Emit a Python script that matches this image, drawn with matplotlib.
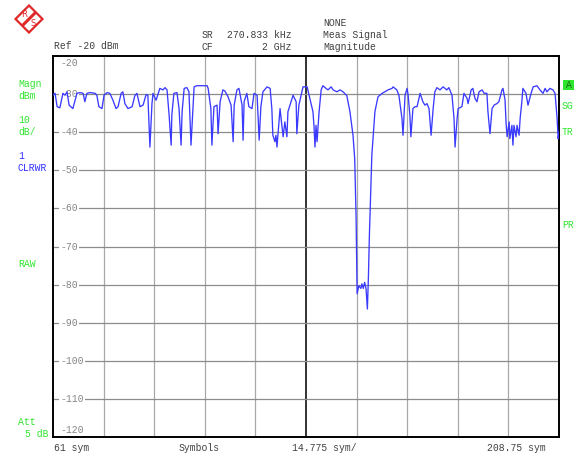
import matplotlib
matplotlib.use("Agg")
import matplotlib.pyplot as plt
from matplotlib.patches import Polygon, Rectangle

# ---- instrument settings -------------------------------------------------
sym_start, sym_stop = 61.0, 208.75
sym_per_div = 14.775
level_ticks = [-20, -30, -40, -50, -60, -70, -80, -90, -100, -110, -120]

# ---- measured magnitude trace (symbols, dBm) ------------------------------
trace_sym = [
    61.0, 61.6, 62.2, 63.0, 63.9, 64.5, 65.1, 65.7, 66.8, 68.0,
    68.9, 69.8, 70.3, 70.9, 71.8, 73.3, 73.8, 74.4, 75.3, 75.9,
    76.8, 77.6, 78.5, 79.4, 80.0, 80.9, 81.4, 82.0, 82.9, 84.1,
    84.9, 85.5, 86.4, 87.3, 88.2, 88.7, 89.3, 89.9, 90.2, 91.1,
    92.2, 93.1, 93.7, 94.3, 94.9, 95.5, 95.7, 96.3, 97.2, 97.8,
    98.4, 98.7, 99.3, 100.1, 100.7, 101.3, 101.9, 102.2, 103.0, 106.0,
    106.3, 107.1, 107.4, 108.0, 108.9, 109.2, 109.8, 110.6, 111.2, 112.1,
    113.0, 113.6, 113.9, 114.7, 115.3, 116.2, 116.5, 116.8, 117.6, 118.2,
    119.1, 119.7, 120.6, 121.2, 121.7, 122.3, 123.5, 124.4, 124.9, 125.2,
    125.8, 126.1, 126.4, 127.3, 127.6, 128.2, 128.7, 129.3, 129.6, 130.2,
    131.1, 132.0, 132.2, 132.8, 134.0, 135.2, 136.0, 136.9, 137.2, 137.5,
    137.8, 138.1, 138.7, 139.3, 139.8, 140.7, 141.3, 142.2, 142.8, 143.9,
    144.8, 145.7, 146.8, 147.7, 148.6, 149.1, 149.5, 149.8, 150.3, 150.9,
    151.2, 151.6, 152.0, 152.4, 152.8, 153.1, 153.4, 154.1, 155.0, 155.9,
    157.1, 157.9, 158.8, 160.0, 160.3, 161.4, 162.0, 162.9, 163.2, 163.8,
    164.4, 164.7, 165.2, 165.5, 166.1, 166.7, 167.3, 168.2, 169.0, 169.6,
    170.2, 170.8, 171.4, 172.0, 172.5, 173.1, 174.0, 174.9, 176.0, 176.6,
    177.5, 178.1, 178.4, 179.0, 179.3, 180.4, 181.0, 181.9, 182.2, 183.1,
    183.6, 184.2, 184.8, 185.4, 186.3, 186.9, 187.7, 188.0, 188.6, 189.2,
    189.8, 190.6, 191.2, 192.1, 192.4, 193.0, 193.3, 193.6, 194.2, 194.4,
    195.0, 195.3, 195.6, 196.2, 196.5, 197.1, 197.4, 197.9, 198.2, 199.1,
    199.7, 200.6, 201.2, 202.3, 203.2, 204.1, 204.7, 205.2, 206.1, 207.0,
    207.6, 208.2, 208.5, 208.75,
]
trace_dbm = [
    -30.3, -29.8, -33.3, -33.6, -29.8, -30.3, -29.4, -32.9, -33.8, -29.8,
    -29.6, -29.8, -32.0, -29.8, -29.6, -29.8, -30.3, -33.3, -33.8, -30.3,
    -29.6, -29.8, -31.6, -33.8, -33.3, -29.8, -29.4, -32.5, -33.8, -33.3,
    -30.4, -29.8, -33.3, -32.9, -30.1, -30.3, -43.9, -32.5, -29.8, -31.6,
    -28.5, -28.9, -28.3, -28.9, -35.5, -43.4, -35.5, -29.8, -29.6, -33.8,
    -43.4, -34.6, -28.5, -28.3, -29.4, -43.4, -33.3, -28.1, -27.8, -27.8,
    -28.5, -33.8, -43.4, -33.3, -32.9, -40.4, -32.0, -28.9, -29.2, -30.7,
    -32.9, -42.5, -32.9, -28.9, -28.5, -32.9, -42.1, -32.0, -29.8, -33.3,
    -33.8, -29.8, -30.3, -42.1, -33.3, -29.4, -28.1, -28.5, -33.8, -40.8,
    -42.5, -40.8, -43.9, -33.8, -36.4, -41.2, -37.3, -41.2, -34.6, -32.9,
    -30.3, -32.0, -40.4, -32.9, -28.1, -28.1, -31.1, -34.6, -38.2, -43.9,
    -38.2, -42.5, -34.6, -28.9, -27.8, -28.5, -28.9, -28.1, -28.9, -29.4,
    -28.9, -29.4, -30.4, -34.6, -40.8, -47.0, -62.3, -82.4, -80.3, -81.0,
    -79.8, -81.0, -79.4, -81.0, -86.4, -78.0, -66.6, -46.0, -34.6, -30.7,
    -29.8, -29.4, -28.9, -28.5, -28.1, -28.9, -30.3, -36.4, -40.8, -30.3,
    -28.5, -30.3, -35.5, -41.2, -33.8, -33.3, -33.3, -29.8, -32.0, -32.9,
    -32.5, -33.8, -40.8, -33.8, -29.4, -28.3, -28.9, -28.1, -28.9, -28.3,
    -30.3, -36.4, -43.9, -36.4, -33.8, -33.3, -29.8, -31.1, -32.5, -28.9,
    -28.5, -31.1, -32.0, -29.4, -28.9, -29.8, -29.8, -34.6, -40.4, -33.8,
    -32.9, -32.5, -32.0, -28.9, -28.5, -31.6, -37.7, -41.2, -37.3, -41.7,
    -38.2, -43.4, -38.2, -41.2, -38.2, -40.8, -36.4, -32.0, -28.5, -29.8,
    -32.9, -29.8, -28.1, -27.8, -28.9, -29.8, -28.5, -29.4, -28.5, -28.9,
    -29.8, -36.4, -41.7, -40.0,
]

# ---- screen layout -------------------------------------------------------
W, H, DPI = 574, 454, 100
MONO = "Liberation Mono"
GREEN = "#2fe62f"
BLUE = "#3030ff"
TRACE = "#3a3aff"
TXT = "#404040"
TICK = "#858585"

fig = plt.figure(figsize=(W / DPI, H / DPI), dpi=DPI)
fig.patch.set_facecolor("white")

ax = fig.add_axes([53 / W, (H - 437) / H, 506 / W, 381 / H])
ax.set_xlim(sym_start, sym_stop)
ax.set_ylim(level_ticks[-1], level_ticks[0])
ax.set_xticks([])
ax.set_yticks([])
for sp in ax.spines.values():
    sp.set_linewidth(1.4)
    sp.set_color("black")

# graticule
for i in range(1, 10):
    xv = sym_start + i * sym_per_div
    if i == 5:
        ax.axvline(xv, color="#222222", lw=1.3, zorder=1)
    else:
        ax.axvline(xv, color="#a8a8a8", lw=0.9, zorder=1)
for lv in level_ticks[1:-1]:
    ax.axhline(lv, color="#8c8c8c", lw=0.9, zorder=1)

# level labels inside the graticule
for lv in level_ticks:
    yv = lv
    if lv == level_ticks[0]:
        yv = lv - 1.8
    elif lv == level_ticks[-1]:
        yv = lv + 1.8
    ax.text(sym_start + 7 * (sym_stop - sym_start) / 506, yv, f"{lv}",
            family=MONO, fontsize=7, color=TICK, ha="left", va="center",
            zorder=2,
            bbox=dict(boxstyle="square,pad=0.15", fc="white", ec="none"))

ax.plot(trace_sym, trace_dbm, color=TRACE, lw=0.95, zorder=3)


def ptext(x, y, s, color=TXT, ha="left", **kw):
    fig.text(x / W, 1 - y / H, s, family=MONO, fontsize=7, color=color,
             ha=ha, va="center", **kw)


# header
ptext(54, 46, "Ref -20 dBm")
ptext(202, 35, "SR")
ptext(227, 35, "270.833 kHz")
ptext(202, 47, "CF")
ptext(291, 47, "2 GHz", ha="right")
ptext(323, 23, "NONE")
ptext(323, 35, "Meas Signal")
ptext(323, 47, "Magnitude")

# footer
ptext(54, 448, "61 sym")
ptext(179, 448, "Symbols")
ptext(292, 448, "14.775 sym/")
ptext(546, 448, "208.75 sym", ha="right")

# left side annotations
ptext(18, 84, "Magn", color=GREEN)
ptext(18, 96, "dBm", color=GREEN)
ptext(18, 120, "10", color=GREEN)
ptext(18, 132, "dB/", color=GREEN)
ptext(18, 156, "1", color=BLUE)
ptext(18, 168, "CLRWR", color=BLUE)
ptext(18, 264, "RAW", color=GREEN)
ptext(18, 422, "Att", color=GREEN)
ptext(25, 434, "5 dB", color=GREEN)

# right side annotations
ptext(562, 106, "SG", color=GREEN)
ptext(562, 132, "TR", color=GREEN)
ptext(562, 225, "PR", color=GREEN)

# overlay in pixel space for the logo and status box
ov = fig.add_axes([0, 0, 1, 1], zorder=-1)
ov.set_xlim(0, W)
ov.set_ylim(H, 0)
ov.axis("off")
ov.add_patch(Rectangle((563, 80), 12, 10, fc=GREEN, ec="none"))
ov.text(566, 85, "A", family=MONO, fontsize=7, color="#1a6a1a",
        ha="left", va="center")

cx, cy, r = 29, 19, 13.5
ov.add_patch(Polygon([(cx, cy - r), (cx + r, cy), (cx, cy + r), (cx - r, cy)],
                     closed=True, fc="white", ec="#e02828", lw=1.6))
ov.plot([cx - r / 2, cx + r / 2], [cy + r / 2, cy - r / 2],
        color="#e02828", lw=2.2, solid_capstyle="butt")
ov.text(cx - 4.5, cy - 4.5, "R", fontsize=6, color="#e02828",
        ha="center", va="center", family="DejaVu Sans")
ov.text(cx + 4.5, cy + 4.5, "S", fontsize=6, color="#e02828",
        ha="center", va="center", family="DejaVu Sans")

fig.savefig("out.png", dpi=DPI, facecolor="white")
